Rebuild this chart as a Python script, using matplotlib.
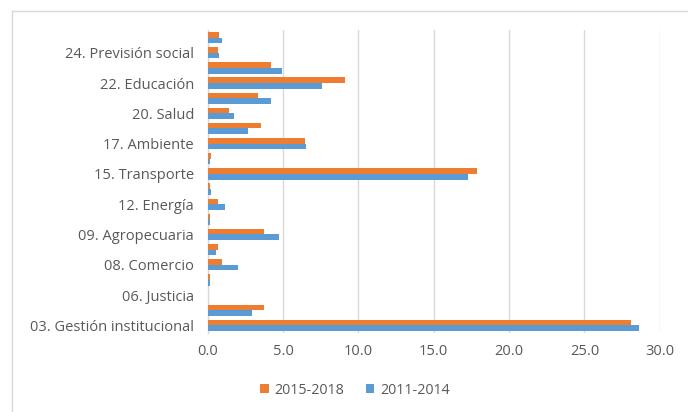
import numpy as np
import matplotlib.pyplot as plt
from matplotlib.lines import Line2D

# categories bottom -> top; only every other one is labelled in the chart
categories = [
    "03. Gestión institucional", "04. Relaciones exteriores", "06. Justicia",
    "07. Seguridad", "08. Comercio", "08b. Industria", "09. Agropecuaria",
    "10. Minería", "12. Energía", "13. Comunicaciones", "15. Transporte",
    "16. Vivienda", "17. Ambiente", "18. Ciencia y tecnología", "20. Salud",
    "21. Cultura", "22. Educación", "23. Trabajo", "24. Previsión social",
    "25. Otros",
]
vals_2015_2018 = [28.1, 3.7, 0.0, 0.13, 0.95, 0.68, 3.72, 0.13, 0.68, 0.13,
                  17.85, 0.2, 6.45, 3.55, 1.44, 3.35, 9.1, 4.2, 0.68, 0.77]
vals_2011_2014 = [28.6, 2.95, 0.02, 0.13, 2.0, 0.57, 4.75, 0.13, 1.17, 0.22,
                  17.3, 0.18, 6.55, 2.7, 1.72, 4.2, 7.6, 4.95, 0.77, 0.97]
series_labels = ["2015-2018", "2011-2014"]

ORANGE = "#ED7D31"
BLUE = "#5B9BD5"
TXT = "#595959"
GRID = "#D9D9D9"

plt.rcParams['font.family'] = ['Open Sans', 'DejaVu Sans']

fig = plt.figure(figsize=(6.88, 4.12), dpi=100)
ax = fig.add_axes([0.302, 0.192, 0.657, 0.735])

y = np.arange(len(categories))
h = 0.37
ax.barh(y + h / 2, vals_2015_2018, height=h, color=ORANGE, label=series_labels[0], zorder=3)
ax.barh(y - h / 2, vals_2011_2014, height=h, color=BLUE, label=series_labels[1], zorder=3)

ax.set_ylim(-0.5, len(categories) - 0.5)
ax.set_xlim(0, 30)
ax.set_xticks(np.arange(0, 31, 5))
ax.set_xticklabels([f"{v:.1f}" for v in np.arange(0, 31, 5)])
ax.set_yticks(y[::2])
ax.set_yticklabels(categories[::2])

ax.grid(axis='x', color=GRID, linewidth=1, zorder=0)
for s in ['top', 'right', 'bottom']:
    ax.spines[s].set_visible(False)
ax.spines['left'].set_color(GRID)
ax.spines['left'].set_linewidth(1)
ax.tick_params(axis='both', length=0, colors=TXT, labelsize=10.5)
ax.tick_params(axis='y', pad=10)
ax.tick_params(axis='x', pad=8)

ax.legend(loc='center', bbox_to_anchor=(0.516, 0.053), bbox_transform=fig.transFigure,
          ncol=2, frameon=False, fontsize=10.3, labelcolor=TXT,
          handlelength=0.6, handleheight=0.6, handletextpad=0.4, columnspacing=1.5)

# outer chart border (only top and left visible in the crop)
fig.add_artist(Line2D([12 / 688, 12 / 688], [0, 1 - 11 / 412], transform=fig.transFigure,
                      color=GRID, linewidth=1))
fig.add_artist(Line2D([12 / 688, 1], [1 - 11 / 412, 1 - 11 / 412], transform=fig.transFigure,
                      color=GRID, linewidth=1))

fig.savefig("out.png", dpi=100)
